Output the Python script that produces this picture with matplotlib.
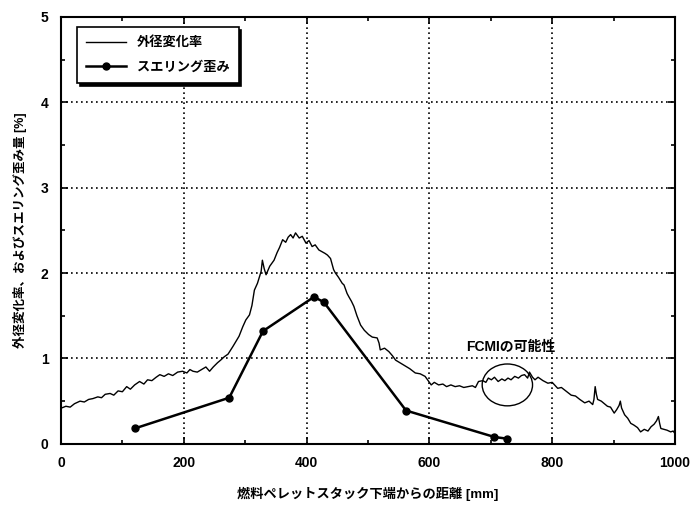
import matplotlib
matplotlib.use('Agg')
import matplotlib.pyplot as plt
from matplotlib.patches import Ellipse
from matplotlib.ticker import MultipleLocator

plt.rcParams['font.family'] = ['Liberation Sans', 'Noto Sans CJK JP', 'DejaVu Sans']
plt.rcParams['font.weight'] = 'bold'

# 外径変化率
dia_x = [0, 1, 8, 15, 22, 31, 38, 45, 52, 60, 66, 72, 80, 86, 93, 100, 107, 113, 120, 128,
         135, 141, 148, 155, 161, 168, 175, 182, 190, 198, 205, 210, 215, 222, 229, 236, 242,
         248, 255, 260, 266, 272, 280, 285, 290, 296, 301, 307, 311, 315, 320, 326, 328, 331,
         334, 340, 347, 352, 356, 361, 366, 370, 374, 378, 382, 385, 388, 393, 399, 404, 409,
         414, 420, 425, 430, 434, 439, 444, 447, 452, 458, 461, 466, 469, 473, 477, 482, 488,
         494, 501, 507, 515, 518, 520, 527, 534, 540, 545, 552, 561, 568, 577, 585, 593, 599,
         603, 608, 615, 622, 628, 635, 642, 649, 656, 663, 670, 675, 680, 687, 692, 696, 701,
         706, 712, 718, 723, 728, 733, 739, 745, 750, 755, 760, 763, 768, 772, 777, 785, 793,
         800, 809, 815, 822, 831, 838, 845, 853, 860, 866, 868, 870, 872, 874, 880, 885, 890,
         895, 901, 905, 909, 911, 913, 918, 923, 928, 933, 939, 944, 950, 956, 961, 966, 970,
         973, 975, 977, 982, 987, 993, 997, 1000]
dia_y = [0.45, 0.42, 0.44, 0.43, 0.47, 0.50, 0.49, 0.52, 0.53, 0.55, 0.54, 0.58, 0.59, 0.57,
         0.62, 0.61, 0.67, 0.64, 0.69, 0.73, 0.70, 0.75, 0.74, 0.78, 0.81, 0.79, 0.82, 0.80,
         0.84, 0.85, 0.83, 0.87, 0.85, 0.84, 0.87, 0.90, 0.85, 0.90, 0.95, 0.98, 1.02, 1.05,
         1.14, 1.20, 1.26, 1.37, 1.45, 1.51, 1.62, 1.80, 1.88, 2.02, 2.15, 2.05, 1.98, 2.08,
         2.15, 2.24, 2.30, 2.39, 2.36, 2.42, 2.45, 2.41, 2.47, 2.44, 2.41, 2.43, 2.35, 2.38,
         2.31, 2.33, 2.27, 2.25, 2.23, 2.21, 2.17, 2.04, 2.00, 1.95, 1.88, 1.86, 1.76, 1.72,
         1.67, 1.61, 1.50, 1.39, 1.33, 1.28, 1.25, 1.24, 1.18, 1.10, 1.12, 1.08, 1.03, 0.98,
         0.95, 0.91, 0.88, 0.83, 0.82, 0.79, 0.73, 0.69, 0.72, 0.69, 0.70, 0.67, 0.69, 0.67,
         0.68, 0.66, 0.67, 0.68, 0.66, 0.73, 0.74, 0.72, 0.77, 0.75, 0.78, 0.73, 0.76, 0.74,
         0.77, 0.75, 0.79, 0.77, 0.80, 0.81, 0.77, 0.84, 0.78, 0.75, 0.78, 0.74, 0.71, 0.72,
         0.65, 0.66, 0.62, 0.57, 0.56, 0.52, 0.48, 0.50, 0.46, 0.52, 0.67, 0.58, 0.52, 0.50,
         0.47, 0.44, 0.43, 0.36, 0.40, 0.45, 0.50, 0.42, 0.34, 0.30, 0.24, 0.22, 0.19, 0.14,
         0.17, 0.15, 0.20, 0.23, 0.27, 0.32, 0.24, 0.18, 0.17, 0.16, 0.14, 0.15, 0.12]

# スエリング歪み
sw_x = [120, 274, 329, 412, 428, 562, 706, 727]
sw_y = [0.18, 0.54, 1.32, 1.72, 1.66, 0.39, 0.08, 0.06]

fig = plt.figure(figsize=(6.93, 5.09), dpi=100)
ax = fig.add_axes([0.088, 0.128, 0.886, 0.839])

ax.plot(dia_x, dia_y, color='black', lw=1.0, label='外径変化率')
ax.plot(sw_x, sw_y, color='black', lw=1.8, marker='o', markersize=5, label='スエリング歪み')

ax.set_xlim(0, 1000)
ax.set_ylim(0, 5)
ax.xaxis.set_major_locator(MultipleLocator(200))
ax.xaxis.set_minor_locator(MultipleLocator(100))
ax.yaxis.set_major_locator(MultipleLocator(1))
ax.yaxis.set_minor_locator(MultipleLocator(0.5))
ax.tick_params(which='both', direction='in', top=True, right=True, width=1.2)
ax.tick_params(which='major', length=5, labelsize=10)
ax.tick_params(which='minor', length=3)
ax.tick_params(axis='x', pad=9)
ax.tick_params(axis='y', pad=9)
ax.grid(True, which='major', linestyle=(0, (1, 2)), color='black', lw=1.2)
for s in ax.spines.values():
    s.set_linewidth(1.5)

ax.set_xlabel('燃料ペレットスタック下端からの距離 [mm]', fontsize=9.5, fontweight='bold', labelpad=12)
ax.set_ylabel('外径変化率、およびスエリング歪み量 [%]', fontsize=9, fontweight='bold', labelpad=10)

ax.add_patch(Ellipse((727, 0.69), 82, 0.49, fill=False, edgecolor='black', lw=1.0))
ax.text(732, 1.13, 'FCMIの可能性', fontsize=10, fontweight='bold', ha='center', va='center')

leg = ax.legend(loc='upper left', bbox_to_anchor=(0.02, 0.985),
                prop={'weight': 'bold', 'size': 9.5}, fancybox=False,
                shadow={'color': 'black', 'alpha': 1},
                edgecolor='black', framealpha=1, handlelength=3, borderpad=0.7,
                labelspacing=0.9, borderaxespad=0.3)
leg.get_frame().set_linewidth(1.2)

plt.savefig('out.png', dpi=100)
